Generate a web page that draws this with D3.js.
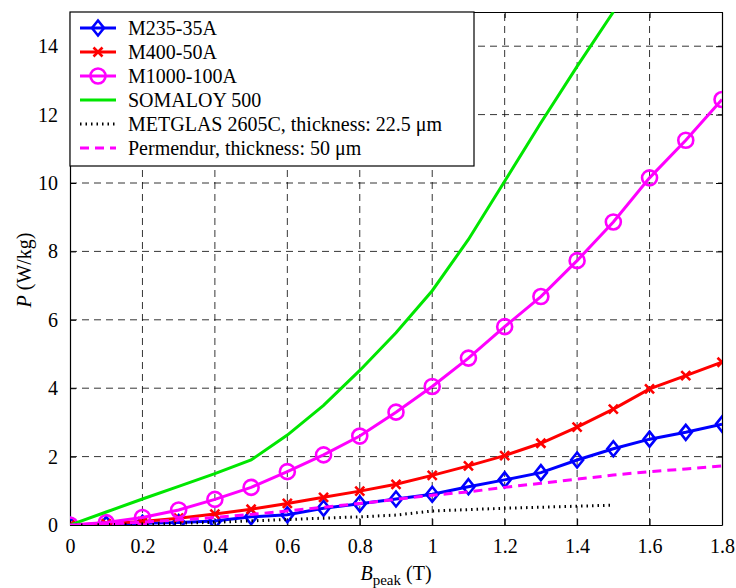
<!DOCTYPE html>
<html>
<head>
<meta charset="utf-8">
<script src="https://cdn.jsdelivr.net/npm/d3@7"></script>
</head>
<body style="margin:0; background:#fff">
<script>
// flux density steps (T)
var bSteps = [0, 0.1, 0.2, 0.3, 0.4, 0.5, 0.6, 0.7, 0.8, 0.9, 1.0, 1.1, 1.2, 1.3, 1.4, 1.5, 1.6, 1.7, 1.8];

// core losses (W/kg)
var m235 = [0, 0.02, 0.05, 0.07, 0.12, 0.24, 0.3, 0.49, 0.62, 0.76, 0.9, 1.12, 1.32, 1.53, 1.9, 2.23, 2.51, 2.71, 2.95];
var m400 = [0, 0.04, 0.1, 0.2, 0.32, 0.46, 0.63, 0.81, 0.99, 1.19, 1.45, 1.73, 2.03, 2.39, 2.86, 3.39, 3.98, 4.37, 4.76];
var m1000 = [0, 0.07, 0.22, 0.44, 0.75, 1.1, 1.56, 2.05, 2.6, 3.3, 4.05, 4.88, 5.8, 6.68, 7.73, 8.86, 10.15, 11.25, 12.44];
var somaloy = [0, 0.38, 0.76, 1.13, 1.5, 1.9, 2.63, 3.5, 4.52, 5.62, 6.85, 8.35, 10.05, 11.76, 13.41, 15.0];
var metglas = [0, 0.01, 0.03, 0.05, 0.08, 0.12, 0.16, 0.2, 0.24, 0.29, 0.41, 0.45, 0.49, 0.52, 0.55, 0.58];
var permendur = [0, 0.03, 0.08, 0.15, 0.22, 0.31, 0.41, 0.52, 0.63, 0.75, 0.87, 0.97, 1.1, 1.22, 1.34, 1.46, 1.56, 1.64, 1.73];

var xTicks = [0, 0.2, 0.4, 0.6, 0.8, 1, 1.2, 1.4, 1.6, 1.8];
var yTicks = [0, 2, 4, 6, 8, 10, 12, 14];

var series = [
  {name: "M235-35A", values: m235, color: "#0000ff", dash: null, marker: "diamond"},
  {name: "M400-50A", values: m400, color: "#ff0000", dash: null, marker: "x"},
  {name: "M1000-100A", values: m1000, color: "#ff00ff", dash: null, marker: "circle"},
  {name: "SOMALOY 500", values: somaloy, color: "#00e600", dash: null, marker: null},
  {name: "METGLAS 2605C, thickness: 22.5 \u03bcm", values: metglas, color: "#000000", dash: "1.5,4", marker: null},
  {name: "Permendur, thickness: 50 \u03bcm", values: permendur, color: "#ff00ff", dash: "9,6", marker: null}
];

var width = 736, height = 588;
var margin = {left: 70, right: 14, top: 12, bottom: 63};
var plotW = width - margin.left - margin.right,
    plotH = height - margin.top - margin.bottom;

var svg = d3.select("body").append("svg")
    .attr("width", width)
    .attr("height", height);

var x = d3.scaleLinear().domain([0, 1.8]).range([margin.left, margin.left + plotW]);
var y = d3.scaleLinear().domain([0, 15]).range([margin.top + plotH, margin.top]);

svg.append("clipPath").attr("id", "clip")
  .append("rect")
    .attr("x", margin.left).attr("y", margin.top)
    .attr("width", plotW).attr("height", plotH);

// dashed grid
var grid = svg.append("g").attr("stroke", "#000").attr("stroke-width", 0.8)
    .attr("stroke-dasharray", "7,5");
grid.selectAll(".gx").data(xTicks.slice(1, -1)).enter().append("line")
    .attr("x1", function(d) { return x(d); }).attr("x2", function(d) { return x(d); })
    .attr("y1", y(0)).attr("y2", y(15));
grid.selectAll(".gy").data(yTicks.slice(1)).enter().append("line")
    .attr("x1", x(0)).attr("x2", x(1.8))
    .attr("y1", function(d) { return y(d); }).attr("y2", function(d) { return y(d); });

// axes with inner ticks
svg.append("g").attr("transform", "translate(0," + y(0) + ")")
    .call(d3.axisBottom(x).tickValues(xTicks).tickSizeInner(-6).tickSizeOuter(0).tickPadding(14)
      .tickFormat(function(d) { return d3.format("")(d); }));
svg.append("g").attr("transform", "translate(0," + y(15) + ")")
    .call(d3.axisTop(x).tickValues(xTicks).tickSizeInner(-6).tickSizeOuter(0).tickFormat(""));
svg.append("g").attr("transform", "translate(" + x(0) + ",0)")
    .call(d3.axisLeft(y).tickValues(yTicks).tickSizeInner(-6).tickSizeOuter(0).tickPadding(12));
svg.append("g").attr("transform", "translate(" + x(1.8) + ",0)")
    .call(d3.axisRight(y).tickValues(yTicks).tickSizeInner(-6).tickSizeOuter(0).tickFormat(""));

svg.selectAll(".tick text")
    .style("font-family", "Tinos")
    .style("font-size", "20px")
    .attr("fill", "#000");
svg.selectAll(".domain").attr("stroke", "#000").attr("stroke-width", 1.2);

// data lines
var line = d3.line()
    .x(function(d) { return x(d[0]); })
    .y(function(d) { return y(d[1]); });

var plot = svg.append("g").attr("clip-path", "url(#clip)");

function markerPath(type) {
  if (type == "diamond") return "M0,-7.5L6,0L0,7.5L-6,0Z";
  if (type == "x") return "M-4.5,-4.5L4.5,4.5M-4.5,4.5L4.5,-4.5";
  return null;
}

function drawMarker(sel, s) {
  if (s.marker == "circle") {
    sel.append("circle").attr("r", 7.5)
      .attr("fill", "none").attr("stroke", s.color).attr("stroke-width", 2.6);
  } else if (s.marker) {
    sel.append("path").attr("d", markerPath(s.marker))
      .attr("fill", "none").attr("stroke", s.color).attr("stroke-width", 2.6);
  }
}

series.forEach(function(s) {
  var pts = s.values.map(function(v, i) { return [bSteps[i], v]; });
  plot.append("path")
      .datum(pts)
      .attr("d", line)
      .attr("fill", "none")
      .attr("stroke", s.color)
      .attr("stroke-width", 3)
      .attr("stroke-dasharray", s.dash);
  if (s.marker) {
    plot.selectAll(null).data(pts).enter().append("g")
        .attr("transform", function(d) { return "translate(" + x(d[0]) + "," + y(d[1]) + ")"; })
        .each(function() { drawMarker(d3.select(this), s); });
  }
});

// legend
var legend = svg.append("g").attr("transform", "translate(" + margin.left + "," + margin.top + ")");
legend.append("rect")
    .attr("x", 0).attr("y", 0).attr("width", 404).attr("height", 154)
    .attr("fill", "#fff").attr("stroke", "#000").attr("stroke-width", 1.2);

series.forEach(function(s, i) {
  var ly = 16 + i * 24;
  var row = legend.append("g").attr("transform", "translate(0," + ly + ")");
  row.append("line")
      .attr("x1", 10).attr("x2", 46).attr("y1", 0).attr("y2", 0)
      .attr("stroke", s.color).attr("stroke-width", 3)
      .attr("stroke-dasharray", s.dash);
  if (s.marker) {
    var m = row.append("g").attr("transform", "translate(28,0)");
    drawMarker(m, s);
  }
  row.append("text")
      .attr("x", 58).attr("y", 7)
      .style("font-family", "'Times New Roman'")
      .style("font-size", "20px")
      .text(s.name);
});

// axis titles
var xt = svg.append("text")
    .attr("x", 396).attr("y", 580)
    .attr("text-anchor", "middle")
    .attr("font-family", "Liberation Serif")
    .attr("font-size", 20);
xt.append("tspan").attr("font-style", "italic").text("B");
xt.append("tspan").attr("font-size", 15).attr("dy", 5).text("peak");
xt.append("tspan").attr("dy", -5).text(" (T)");

var yt = svg.append("text")
    .attr("transform", "translate(31," + 270 + ") rotate(-90)")
    .attr("text-anchor", "middle")
    .attr("font-family", "Liberation Serif")
    .attr("font-size", 20);
yt.append("tspan").attr("font-style", "italic").text("P");
yt.append("tspan").text(" (W/kg)");
</script>
</body>
</html>
